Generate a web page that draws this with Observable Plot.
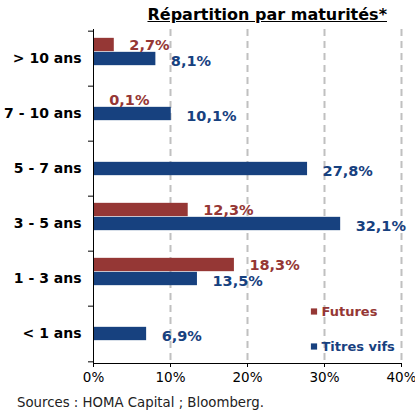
<!DOCTYPE html>
<html>
<head>
<meta charset="utf-8">
<script src="https://cdn.jsdelivr.net/npm/d3@7"></script>
<script src="https://cdn.jsdelivr.net/npm/@observablehq/plot@0.6"></script>
<style>
  html, body { margin: 0; padding: 0; background: #fff; }
  #wrap { position: relative; width: 415px; height: 414px; font-family: "DejaVu Sans", Verdana, sans-serif; }
  #title { position: absolute; top: 5px; right: 28px; font-weight: bold; font-size: 16px; text-decoration: underline; color: #000; }
  #caption { position: absolute; left: 17px; top: 395px; font-size: 13.3px; color: #222; }
  #chart { position: absolute; left: 0; top: 0; }
</style>
</head>
<body>
<div id="wrap">
  <div id="chart"></div>
  <div id="title">Répartition par maturités*</div>
  <div id="caption">Sources : HOMA Capital ; Bloomberg.</div>
</div>
<script>
const categories = ["> 10 ans", "7 - 10 ans", "5 - 7 ans", "3 - 5 ans", "1 - 3 ans", "< 1 ans"];
const futures = [2.7, 0.1, null, 12.3, 18.3, null];
const titresVifs = [8.1, 10.1, 27.8, 32.1, 13.5, 6.9];
const xTicks = [0, 10, 20, 30, 40];
const seriesNames = ["Futures", "Titres vifs"];
const colors = {"Futures": "#953735", "Titres vifs": "#17417f"};

const futData = categories.map((c, i) => ({cat: c, v: futures[i]})).filter(d => d.v != null);
const titData = categories.map((c, i) => ({cat: c, v: titresVifs[i]}));
const fmt = v => v.toFixed(1).replace(".", ",") + "%";

const width = 415, height = 393;
const mT = 29, mB = 30, mL = 93, mR = 14;
const bw = (height - mT - mB) / categories.length;
const barH = 14;
const inset = (bw - barH) / 2;
const font = "DejaVu Sans";

const chart = Plot.plot({
  width, height,
  marginTop: mT, marginBottom: mB, marginLeft: mL, marginRight: mR,
  style: {fontFamily: font, fontSize: "14px", color: "#000", background: "#fff", overflow: "visible"},
  x: {domain: [0, 40], ticks: xTicks},
  y: {domain: categories, padding: 0},
  marks: [
    Plot.gridX(xTicks.slice(1), {stroke: "#c0c0c0", strokeOpacity: 1, strokeWidth: 2, strokeDasharray: "7,5"}),
    Plot.barX(futData, {x: "v", y: "cat", fill: colors["Futures"], insetTop: inset, insetBottom: inset, dy: -barH}),
    Plot.barX(titData, {x: "v", y: "cat", fill: colors["Titres vifs"], insetTop: inset, insetBottom: inset}),
    Plot.text(futData, {x: "v", y: "cat", text: d => fmt(d.v), textAnchor: "start", dx: 15, dy: -barH, fill: colors["Futures"], fontWeight: "bold", fontSize: 14.5}),
    Plot.text(titData, {x: "v", y: "cat", text: d => fmt(d.v), textAnchor: "start", dx: 15, dy: 2, fill: colors["Titres vifs"], fontWeight: "bold", fontSize: 14.5}),
    Plot.frame({anchor: "left", stroke: "#000"}),
    Plot.frame({anchor: "bottom", stroke: "#000"}),
    Plot.axisX({ticks: xTicks, tickFormat: d => d + "%", tickSize: 4, tickPadding: 5, fontSize: 13.5, label: null}),
    Plot.axisY({tickSize: 0, tickPadding: 12, fontWeight: "bold", fontSize: 14, label: null}),
    Plot.axisY({tickSize: 5, text: null, dy: -bw / 2, label: null}),
    Plot.axisY(categories.slice(-1), {tickSize: 5, text: null, dy: bw / 2, label: null}),
    // legend
    Plot.dot(seriesNames.slice(0, 1), {frameAnchor: "bottom-right", symbol: "square", r: 3.5, fill: colors["Futures"], dx: -87.5, dy: -52}),
    Plot.text(seriesNames.slice(0, 1), {frameAnchor: "bottom-right", lineAnchor: "middle", text: d => d, textAnchor: "start", fill: colors["Futures"], fontWeight: "bold", fontSize: 13, dx: -80, dy: -52}),
    Plot.dot(seriesNames.slice(1), {frameAnchor: "bottom-right", symbol: "square", r: 3.5, fill: colors["Titres vifs"], dx: -87.5, dy: -17}),
    Plot.text(seriesNames.slice(1), {frameAnchor: "bottom-right", lineAnchor: "middle", text: d => d, textAnchor: "start", fill: colors["Titres vifs"], fontWeight: "bold", fontSize: 13, dx: -80, dy: -17})
  ]
});
document.getElementById("chart").appendChild(chart);
</script>
</body>
</html>
